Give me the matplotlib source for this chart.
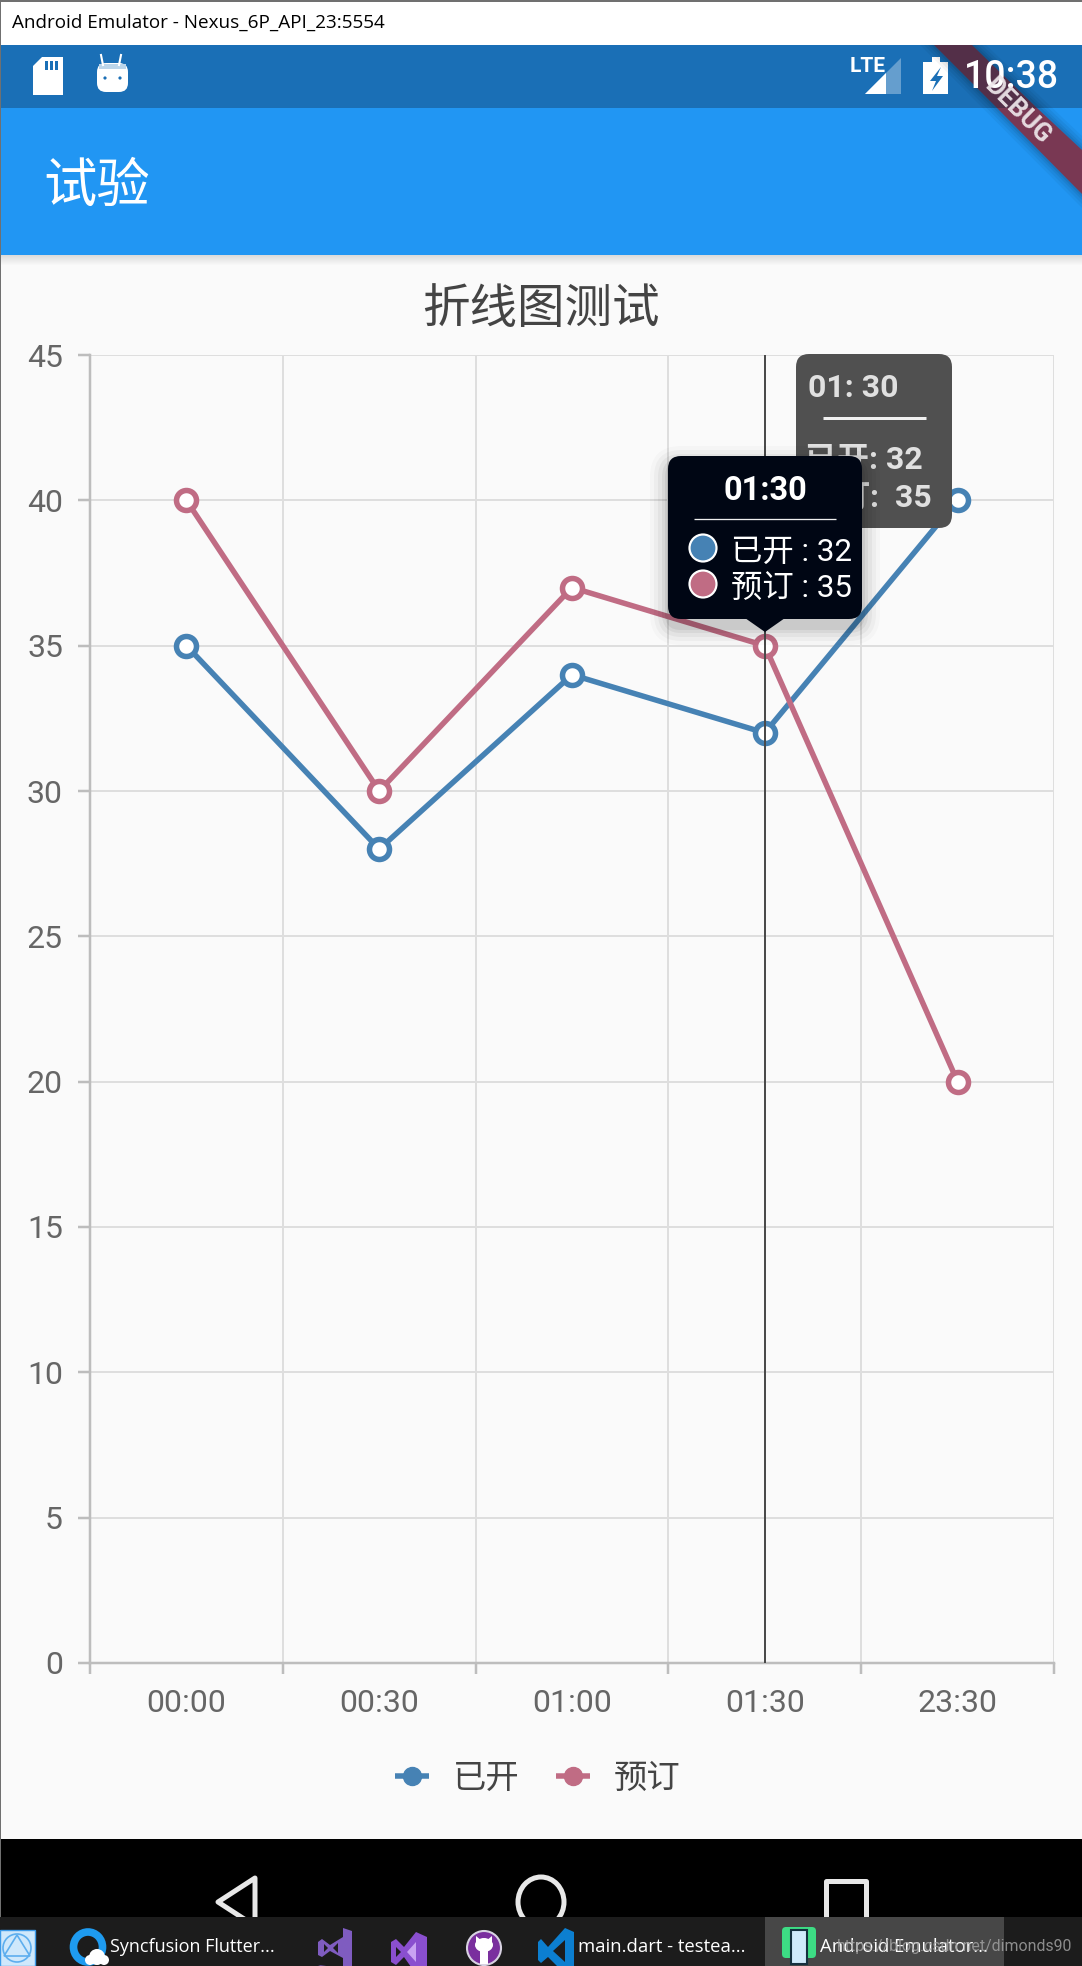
import matplotlib
matplotlib.use('Agg')
import numpy as np
import matplotlib.pyplot as plt
from matplotlib.lines import Line2D
from matplotlib.patches import Rectangle, Polygon, Circle, Ellipse, FancyBboxPatch

plt.rcParams['font.family'] = ['Roboto', 'Noto Sans CJK SC', 'DejaVu Sans']

W, H = 1082, 1966

categories = ['00:00', '00:30', '01:00', '01:30', '23:30']
opened = [35, 28, 34, 32, 40]
booked = [40, 30, 37, 35, 20]
series_names = ['已开', '预订']
series_colors = ['#4682B4', '#C06C84']
y_ticks = [0, 5, 10, 15, 20, 25, 30, 35, 40, 45]
selected = 3

px = 0.72  # one pixel in points at dpi 100

fig = plt.figure(figsize=(W / 100, H / 100), dpi=100, facecolor='#FAFAFA')


def overlay(z):
    a = fig.add_axes([0, 0, 1, 1], zorder=z)
    a.set_xlim(0, W)
    a.set_ylim(H, 0)
    a.axis('off')
    a.patch.set_alpha(0)
    return a


def rbox(a, x0, y0, x1, y1, r, **kw):
    a.add_patch(FancyBboxPatch((x0, y0), x1 - x0, y1 - y0,
                               boxstyle=f'round,pad=0,rounding_size={r}', lw=0, **kw))


# emulator chrome behind the chart
bg = overlay(0)
for i in range(10):
    bg.add_patch(Rectangle((0, 255 + i), W, 1, color='black', alpha=0.12 * (1 - i / 10), lw=0))
bg.add_patch(Rectangle((0, 45), W, 63, color='#1A6FB6', lw=0))
bg.add_patch(Rectangle((0, 108), W, 147, color='#2196F3', lw=0))
bg.text(43, 186, '试验', fontsize=38.4, color='white', va='center', family='Noto Sans CJK SC')

# status bar icons
bg.add_patch(Polygon([(33, 66), (42, 57), (63, 57), (63, 95), (33, 95)], color='white', lw=0))
for x in (45, 50, 55):
    bg.add_patch(Rectangle((x, 61), 3, 9, color='#1A6FB6', lw=0))
rbox(bg, 97, 63, 128, 92, 9, color='white')
bg.add_patch(Rectangle((99, 64), 27, 5, color='#BBD5EA', lw=0))
bg.plot([103, 101], [65, 55], color='white', lw=1.5)
bg.plot([119, 121], [65, 55], color='white', lw=1.5)
bg.add_patch(Circle((105, 78), 1.6, color='#1A6FB6', lw=0))
bg.add_patch(Circle((120, 78), 1.6, color='#1A6FB6', lw=0))
bg.text(868, 66, 'LTE', fontsize=15, color='white', ha='center', va='center', weight='bold',
        family=['Liberation Sans Narrow', 'Roboto'])
bg.add_patch(Polygon([(865, 94), (901, 58), (901, 94)], color='white', alpha=0.33, lw=0))
bg.add_patch(Polygon([(865, 94), (886, 73), (886, 94)], color='white', lw=0))
bg.add_patch(Rectangle((923, 62), 25, 32, color='white', lw=0))
bg.add_patch(Rectangle((932, 57), 8, 6, color='white', lw=0))
bg.add_patch(Polygon([(941, 67), (930, 81), (936, 81), (932, 91), (943, 76), (937, 76)],
                     color='#1A6FB6', lw=0))

# debug banner, the clock stays readable through it
for grow, alpha in ((14, 0.04), (10, 0.05), (6, 0.06), (3, 0.07)):
    bg.add_patch(Polygon([(934 - grow, 45), (972 + grow, 45), (1082, 150 - grow), (1082, 194 + grow)],
                         color='black', alpha=alpha, lw=0, zorder=3.2))
bg.add_patch(Polygon([(934, 45), (972, 45), (1037, 108), (997, 108)], color='#5D2A3E', alpha=0.88,
                     lw=0, zorder=3.5))
bg.add_patch(Polygon([(997, 108), (1037, 108), (1082, 150), (1082, 194)], color='#7D3650', alpha=0.97,
                     lw=0, zorder=3.5))
bg.text(1059, 78, '10:38', fontsize=27, color='white', ha='right', va='center', weight='medium',
        zorder=3.8)
bg.text(1017, 111, 'DEBUG', fontsize=18.5, color='#EFE8EB', rotation=-45, ha='center', va='center',
        weight='bold', rotation_mode='anchor', zorder=4, alpha=0.92)

# window title bar
bg.add_patch(Rectangle((0, 0), W, 45, color='white', lw=0, zorder=3.6))
bg.add_patch(Rectangle((0, 0), W, 1.5, color='#707070', lw=0, zorder=3.7))
bg.text(12, 23, 'Android Emulator - Nexus_6P_API_23:5554', fontsize=13.6, color='black',
        va='center', family=['Open Sans', 'DejaVu Sans'], zorder=4)

bg.text(541, 309, '折线图测试', fontsize=34.2, color='#444444', ha='center', va='center',
        family='Noto Sans CJK SC')

# navigation bar and task bar
bg.add_patch(Rectangle((0, 1839), W, 80, color='black', lw=0))
nav = dict(fill=False, ec='#E8E8E8', lw=5 * px, joinstyle='round')
bg.add_patch(Polygon([(255, 1878), (218, 1902), (255, 1926)], **nav))
bg.add_patch(Ellipse((541, 1902), 46, 50, fill=False, ec='#E8E8E8', lw=5 * px))
bg.add_patch(Rectangle((826, 1881), 40, 50, **nav))
bg.add_patch(Rectangle((0, 1917), W, 49, color='#1C1C1C', lw=0, zorder=5))
bg.add_patch(Rectangle((765, 1917), 239, 49, color='#474747', lw=0, zorder=5))

bg.add_patch(Rectangle((0, 1930), 35, 36, fc='#CFE8FB', ec='#3D9BE9', lw=1, zorder=6))
bg.add_patch(Circle((17, 1948), 14, fill=False, ec='#5DAEEE', lw=1.2, zorder=7))
bg.add_patch(Polygon([(17, 1935), (30, 1956), (4, 1956)], fill=False, ec='#5DAEEE', lw=1.2, zorder=7))

bg.add_patch(Ellipse((88, 1947), 29, 30, fill=False, ec='#1E9BF0', lw=5.5, zorder=6))
for cx, cy, r in ((97, 1957, 8), (90, 1960, 5), (104, 1960, 5)):
    bg.add_patch(Circle((cx, cy), r, color='white', lw=0, zorder=7))

bg.add_patch(Polygon([(343, 1928), (352, 1931), (352, 1970), (343, 1975), (318, 1965), (343, 1968)],
                     color='#7F5CC0', lw=0, zorder=6))
bg.add_patch(Polygon([(318, 1942), (322, 1939), (330, 1945), (343, 1937), (343, 1958), (330, 1951),
                      (322, 1957), (318, 1955)], color='#7F5CC0', lw=0, zorder=6))
bg.add_patch(Polygon([(324, 1944), (328, 1948), (324, 1952)], color='#1C1C1C', lw=0, zorder=7))
bg.add_patch(Polygon([(338, 1943), (333, 1948), (338, 1953)], color='#1C1C1C', lw=0, zorder=7))

bg.add_patch(Polygon([(416, 1932), (427, 1937), (427, 1967), (416, 1974), (404, 1957), (396, 1965),
                      (391, 1962), (391, 1942), (396, 1939), (404, 1947)], color='#8A4FCF', lw=0, zorder=6))
bg.add_patch(Polygon([(416, 1942), (407, 1952), (416, 1962)], color='#C9A3F2', lw=0, zorder=7))
bg.add_patch(Polygon([(396, 1947), (401, 1952), (396, 1957)], color='#1C1C1C', lw=0, zorder=7))

bg.add_patch(Circle((484, 1948), 17, fc='#7A2F9E', ec='#D8D2E2', lw=1.5, zorder=6))
bg.add_patch(Ellipse((484, 1945), 18, 14, color='white', lw=0, zorder=7))
bg.add_patch(Polygon([(476, 1936), (482, 1941), (476, 1945)], color='white', lw=0, zorder=7))
bg.add_patch(Polygon([(492, 1936), (486, 1941), (492, 1945)], color='white', lw=0, zorder=7))
bg.add_patch(Rectangle((480, 1950), 8, 14, color='white', lw=0, zorder=7))

bg.add_patch(Polygon([(565, 1928), (574, 1932), (574, 1970), (565, 1974), (548, 1957), (541, 1963),
                      (538, 1960), (538, 1942), (541, 1939), (548, 1947)], color='#0C7FD0', lw=0, zorder=6))
bg.add_patch(Polygon([(565, 1940), (553, 1951), (565, 1962)], color='#1C1C1C', lw=0, zorder=7))

rbox(bg, 782, 1927, 816, 1958, 4, color='#3DDC84', zorder=6)
bg.add_patch(Rectangle((791, 1930), 16, 34, fc='#CFEAFB', ec='#15303F', lw=1.5, zorder=7))

task = dict(color='white', va='center', zorder=8, family=['Open Sans', 'DejaVu Sans'])
bg.text(110, 1947, 'Syncfusion Flutter...', fontsize=13, **task)
bg.text(578, 1947, 'main.dart - testea...', fontsize=13.3, **task)
bg.text(820, 1947, 'Android Emulator...', fontsize=13.3, **task)
bg.text(1072, 1946, 'https://blog.csdn.net/dimonds90', fontsize=11.4, color='#A0A0A0', va='center',
        ha='right', zorder=8, alpha=0.85)

# the chart itself
ax = fig.add_axes([90 / W, 1 - 1663 / H, 964 / W, 1308 / H], zorder=1)
ax.patch.set_alpha(0)
x = np.arange(len(categories))
ax.set_xlim(-0.5, len(categories) - 0.5)
ax.set_ylim(0, 45)
ax.set_yticks(y_ticks)
ax.set_xticks(np.arange(len(categories) + 1) - 0.5)
ax.set_xticklabels([])
ax.set_xticks(x, minor=True)
ax.set_xticklabels(categories, minor=True)
ax.grid(True, color='#DEDEDE', lw=2 * px)
ax.set_axisbelow(True)
for s in ('top', 'right'):
    ax.spines[s].set_visible(False)
for s in ('left', 'bottom'):
    ax.spines[s].set_color('#BDBDBD')
    ax.spines[s].set_linewidth(2.5 * px)
ax.tick_params(axis='y', colors='#BDBDBD', width=2.5 * px, length=8.5, pad=11,
               labelcolor='#666666', labelsize=23)
ax.tick_params(axis='x', which='major', colors='#BDBDBD', width=2.5 * px, length=8)
ax.tick_params(axis='x', which='minor', length=0, pad=19, labelcolor='#666666', labelsize=23)

ax.axvline(selected, color='#4A4A4A', lw=2 * px, zorder=4)
for vals, c, name in zip((opened, booked), series_colors, series_names):
    ax.plot(x, vals, color=c, lw=5.5 * px, marker='o', ms=20 * px, mfc='white', mec=c, mew=5.5 * px,
            clip_on=False, zorder=3, label=name)

handles = [Line2D([], [], color=c, lw=5.5 * px, marker='o', ms=18 * px, solid_capstyle='butt')
           for c in series_colors]
fig.legend(handles, series_names, loc='center', bbox_to_anchor=(538 / W, 1 - 1779 / H), ncol=2,
           frameon=False, fontsize=24, labelcolor='#444444', handlelength=1.02, handletextpad=0.72,
           columnspacing=1.08)

# tooltips on top of the chart
top = overlay(2)
rbox(top, 796, 354, 952, 528, 13, color='#505050', zorder=2)
t0 = categories[selected].replace(':', ': ')
top.text(808, 388, t0, fontsize=23, color='#E0E0E0', weight='bold', va='center', zorder=3)
top.plot([823, 926], [418, 418], color='#F0F0F0', lw=3 * px, solid_capstyle='butt', zorder=3)
top.text(923, 460, f'{series_names[0]}: {opened[selected]}', fontsize=23, color='#E0E0E0',
         weight='bold', va='center', ha='right', zorder=3)
top.text(932, 499, f'{series_names[1]}:  {booked[selected]}', fontsize=23, color='#E0E0E0',
         weight='bold', va='center', ha='right', zorder=3)

for grow, alpha in ((18, 0.02), (14, 0.03), (10, 0.04), (6, 0.05), (3, 0.06)):
    rbox(top, 668 - grow, 456 - grow + 8, 862 + grow, 619 + grow + 8, 13 + grow, color='black',
         alpha=alpha, zorder=4)
rbox(top, 668, 456, 862, 619, 13, color='#000614', zorder=5)
top.add_patch(Polygon([(745, 618), (785, 618), (765, 632)], color='#000614', lw=0, zorder=5))
top.text(765, 491, categories[selected], fontsize=23.5, color='white', weight='bold', ha='center',
         va='center', zorder=6)
top.plot([694, 836], [519, 519], color='#EEEEEE', lw=1.3 * px, solid_capstyle='butt', zorder=6)
for y, c, name, vals in zip((548, 584), series_colors, series_names, (opened, booked)):
    top.add_patch(Circle((703, y), 13.5, fc=c, ec='white', lw=2.2 * px, zorder=6))
    top.text(731, y + 4, f'{name} : {vals[selected]}', fontsize=22.6, color='white', va='center', zorder=6)

# window border
top.add_patch(Rectangle((0, 0), 1, 1917, color='#707070', lw=0))

fig.savefig('out.png', dpi=100, facecolor=fig.get_facecolor())
